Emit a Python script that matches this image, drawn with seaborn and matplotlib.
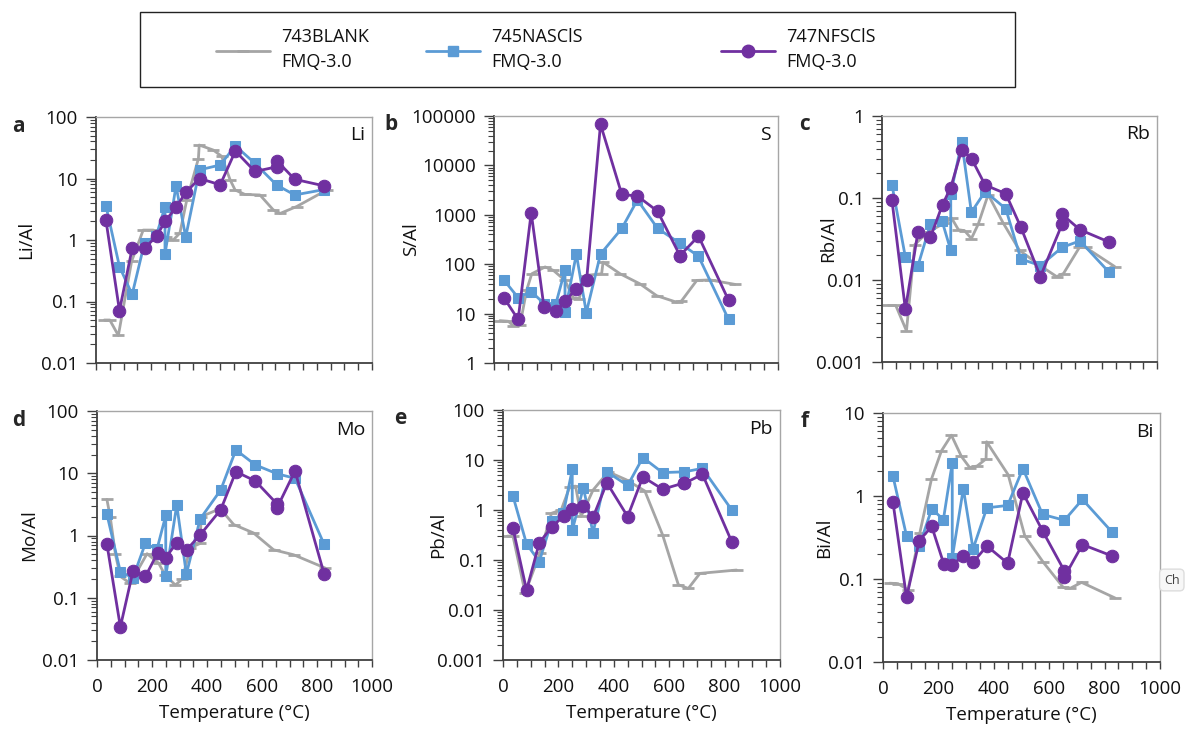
#!/usr/bin/env python3
"""
Element/Al ratios vs temperature for the three FMQ-3.0 runs (six log panels).
"""

import matplotlib

matplotlib.use("Agg")
import matplotlib.pyplot as plt
import numpy as np
import seaborn as sns
from matplotlib.lines import Line2D
from matplotlib.patches import Rectangle
from matplotlib.ticker import FuncFormatter, LogLocator, MultipleLocator, NullFormatter

W, H = 1186, 730
GRAY = "#a5a5a5"
BLUE = "#5b9bd5"
PURPLE = "#7030a0"

SERIES = ["743BLANK\nFMQ-3.0", "745NASClS\nFMQ-3.0", "747NFSClS\nFMQ-3.0"]

# temperatures (°C) of the two sample runs
T_745 = [36, 85, 131, 176, 218, 250, 250, 290, 325, 375, 450, 505, 576, 655, 720, 826]
T_747 = [36, 85, 131, 176, 220, 250, 290, 326, 375, 450, 505, 576, 655, 655, 720, 826]

# Li
li_743_t = [30, 50, 81, 129, 171, 208, 252, 280, 304, 329, 371, 374, 425, 455, 486, 504, 540, 594, 642, 667, 727, 836]
li_743 = [0.05, 0.05, 0.028, 0.45, 1.45, 1.45, 1.1, 1.0, 1.3, 4.5, 21, 35, 29, 23, 9.5, 6.5, 5.5, 5.4, 3.1, 2.7, 3.5, 6.5]
li_745 = [3.6, 0.37, 0.13, 0.91, 1.15, 3.5, 0.59, 7.6, 1.12, 13.8, 16.6, 34, 17.6, 7.8, 5.4, 6.6]
li_747 = [2.1, 0.071, 0.73, 0.73, 1.17, 2.0, 3.4, 6.0, 10, 7.9, 28, 13, 15.5, 19.5, 9.7, 7.6]

# S
s_743_t = [21, 50, 68, 92, 115, 133, 180, 209, 250, 279, 300, 320, 379, 384, 444, 514, 573, 643, 660, 714, 761, 849]
s_743 = [7.2, 7.0, 5.7, 6.0, 30, 64, 88, 75, 47, 21, 20, 59, 64, 110, 64, 40, 23, 17, 18, 47, 48, 39]
s_745 = [47, 21, 28, 16, 16, 76, 11, 160, 10.5, 160, 530, 2000, 530, 265, 145, 7.6]
s_747 = [20.5, 7.6, 1100, 13.5, 11.5, 17.8, 32, 47, 68000, 2580, 2400, 1180, 148, 150, 370, 18.6]

# Rb
rb_743_t = [23, 50, 89, 119, 165, 230, 253, 278, 300, 325, 350, 386, 440, 500, 575, 635, 660, 718, 740, 846]
rb_743 = [0.0049, 0.0049, 0.0024, 0.027, 0.038, 0.05, 0.057, 0.041, 0.040, 0.032, 0.048, 0.11, 0.05, 0.023, 0.015, 0.011, 0.012, 0.025, 0.025, 0.0146]
rb_745 = [0.146, 0.019, 0.015, 0.048, 0.053, 0.023, 0.113, 0.48, 0.067, 0.12, 0.074, 0.018, 0.015, 0.025, 0.030, 0.0124]
rb_747 = [0.095, 0.0044, 0.039, 0.033, 0.083, 0.134, 0.39, 0.30, 0.144, 0.113, 0.044, 0.011, 0.048, 0.063, 0.041, 0.029]

# Mo
mo_743_t = [36, 48, 67, 85, 121, 182, 224, 248, 285, 310, 339, 376, 378, 448, 497, 569, 642, 715, 830]
mo_743 = [3.8, 2.0, 0.5, 0.22, 0.17, 0.51, 0.36, 0.23, 0.16, 0.2, 0.63, 0.75, 2.0, 2.7, 1.5, 1.1, 0.59, 0.49, 0.30]
mo_745 = [2.2, 0.26, 0.21, 0.75, 0.6, 2.1, 0.22, 3.1, 0.24, 1.84, 5.4, 23.7, 13.6, 9.8, 8.3, 0.72]
mo_747 = [0.73, 0.034, 0.27, 0.22, 0.52, 0.44, 0.77, 0.59, 1.02, 2.6, 10.6, 7.5, 3.2, 2.8, 10.9, 0.24]

# Pb
pb_743_t = [15, 36, 80, 133, 175, 210, 241, 262, 282, 325, 380, 446, 512, 576, 633, 669, 711, 843]
pb_743 = [0.30, 0.30, 0.022, 0.135, 0.86, 1.0, 2.9, 3.0, 0.75, 2.5, 5.8, 4.0, 2.4, 0.32, 0.032, 0.027, 0.054, 0.063]
pb_745 = [1.9, 0.21, 0.093, 0.6, 0.86, 6.5, 0.39, 2.8, 0.35, 5.8, 3.1, 11.2, 5.6, 5.8, 6.8, 1.0]
pb_747 = [0.43, 0.025, 0.22, 0.46, 0.76, 1.05, 1.2, 0.74, 3.5, 0.74, 4.6, 2.6, 3.5, 3.4, 5.2, 0.23]

# Bi
bi_743_t = [24, 54, 90, 133, 175, 211, 247, 283, 313, 340, 372, 374, 452, 512, 578, 651, 675, 717, 838]
bi_743 = [0.089, 0.088, 0.074, 0.36, 1.6, 3.5, 5.4, 3.0, 2.2, 2.3, 2.8, 4.5, 1.8, 0.33, 0.16, 0.079, 0.077, 0.091, 0.059]
bi_745 = [1.73, 0.33, 0.25, 0.70, 0.52, 2.5, 0.18, 1.23, 0.23, 0.72, 0.77, 2.14, 0.60, 0.51, 0.91, 0.37]
bi_747 = [0.84, 0.06, 0.29, 0.43, 0.15, 0.148, 0.19, 0.16, 0.25, 0.155, 1.09, 0.38, 0.125, 0.106, 0.26, 0.19]

PANELS = [
    # letter, element, ylim, gray t/v, blue, purple, frame px (left, top, right, bottom)
    ("a", "Li", (0.01, 100), li_743_t, li_743, li_745, li_747, (96, 117, 372, 363)),
    ("b", "S", (1, 100000), s_743_t, s_743, s_745, s_747, (494, 116, 778, 363)),
    ("c", "Rb", (0.001, 1), rb_743_t, rb_743, rb_745, rb_747, (882, 116, 1157, 362)),
    ("d", "Mo", (0.01, 100), mo_743_t, mo_743, mo_745, mo_747, (97, 411, 372, 660)),
    ("e", "Pb", (0.001, 100), pb_743_t, pb_743, pb_745, pb_747, (503, 410, 780, 660)),
    ("f", "Bi", (0.01, 10), bi_743_t, bi_743, bi_745, bi_747, (883, 413, 1160, 662)),
]


def px_box(left, top, right, bottom):
    return [left / W, 1 - bottom / H, (right - left) / W, (bottom - top) / H]


def draw(ax, t, v, color, marker, ms, **kw):
    sns.lineplot(
        x=t, y=v, ax=ax, color=color, marker=marker, markersize=ms,
        markerfacecolor=color, markeredgecolor=color, linewidth=2.0,
        estimator=None, sort=False, legend=False, **kw,
    )


def main() -> None:
    sns.set_theme(style="white")
    plt.rcParams["font.family"] = ["Open Sans", "DejaVu Sans"]
    plt.rcParams["axes.linewidth"] = 1.0

    fig = plt.figure(figsize=(W / 100, H / 100), dpi=100)
    fs = 13.5

    for i, (letter, elem, ylim, gt, gv, bv, pv, box) in enumerate(PANELS):
        ax = fig.add_axes(px_box(*box))
        draw(ax, gt, gv, GRAY, "_", 8, markeredgewidth=2)
        draw(ax, T_745, bv, BLUE, "s", 7.5)
        draw(ax, T_747, pv, PURPLE, "o", 9)

        ax.set_yscale("log")
        ax.set_ylim(*ylim)
        ax.set_xlim(0, 1000)
        ax.xaxis.set_major_locator(MultipleLocator(200))
        ax.xaxis.set_minor_locator(MultipleLocator(50))
        ax.yaxis.set_major_locator(LogLocator(base=10, numticks=12))
        ax.yaxis.set_minor_locator(LogLocator(base=10, subs=np.arange(2, 10), numticks=12))
        ax.yaxis.set_minor_formatter(NullFormatter())
        ax.yaxis.set_major_formatter(FuncFormatter(lambda v, _: f"{v:g}"))

        ax.tick_params(axis="x", which="both", direction="out", length=5, width=1,
                       color="#404040", pad=8, labelsize=fs, labelcolor="#111111", bottom=True)
        ax.tick_params(axis="y", which="major", direction="out", length=7, width=1,
                       color="#404040", pad=6, labelsize=fs, labelcolor="#111111", left=True)
        ax.tick_params(axis="y", which="minor", direction="out", length=4, width=0.8,
                       color="#404040", left=True)

        for side in ("left", "bottom"):
            ax.spines[side].set_color("#404040")
            ax.spines[side].set_linewidth(1.3)
        for side in ("top", "right"):
            ax.spines[side].set_color("#a6a6a6")
            ax.spines[side].set_linewidth(1.0)

        ax.set_ylabel(f"{elem}/Al", fontsize=fs, color="#111111")
        if i < 3:
            ax.tick_params(axis="x", labelbottom=False)
            ax.set_xlabel("")
        else:
            ax.set_xlabel("Temperature (°C)", fontsize=fs, color="#111111", labelpad=6)

        ax.text(0.975, 0.925, elem, transform=ax.transAxes, ha="right", va="center",
                fontsize=14, color="#111111")

        # panel letter
        fig.text((box[0] - 78 - (25 if letter in "be" else 0)) / W, 1 - (box[1] + 9) / H,
                 letter, fontsize=15, fontweight="bold", ha="center", va="center")

    ylabel_x = [-0.22, -0.26, -0.165, -0.215, -0.20, -0.18]
    for ax, lx in zip(fig.axes, ylabel_x):
        ax.yaxis.set_label_coords(lx, 0.5)

    # legend box with three entries
    fig.add_artist(Rectangle((140 / W, 1 - 87 / H), 875 / W, 75 / H, transform=fig.transFigure,
                             fill=False, edgecolor="#222222", linewidth=1.0))
    handles = [
        Line2D([0], [0], color=GRAY, lw=2, marker="_", markersize=8, markeredgewidth=2),
        Line2D([0], [0], color=BLUE, lw=2, marker="s", markersize=7.5),
        Line2D([0], [0], color=PURPLE, lw=2, marker="o", markersize=9),
    ]
    for h, lab, x0 in zip(handles, SERIES, [216, 426, 721]):
        leg = fig.legend([h], [lab], loc="center left", bbox_to_anchor=(x0 / W, 1 - 50 / H),
                         frameon=False, fontsize=13, handlelength=3.0, handletextpad=0.6,
                         borderaxespad=0, borderpad=0)
        for t in leg.get_texts():
            t.set_linespacing(1.5)
            t.set_color("#111111")

    # stray UI tooltip at the right edge of the screenshot
    fig.text(1164 / W, 1 - 580 / H, "Ch", fontsize=9, ha="left", va="center", color="#444444",
             bbox=dict(boxstyle="round,pad=0.35", facecolor="#f7f7f7", edgecolor="#dddddd"))

    fig.savefig("out.png", dpi=100)
    plt.close(fig)


if __name__ == "__main__":
    main()
